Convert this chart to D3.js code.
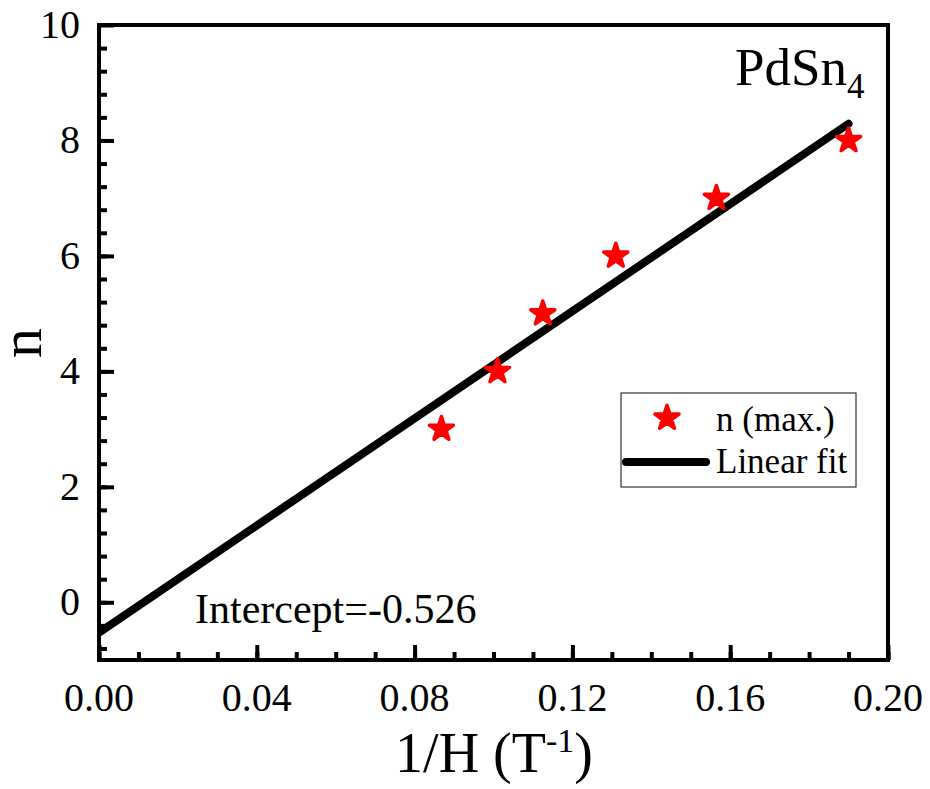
<!DOCTYPE html>
<meta charset="utf-8">
<script src="https://d3js.org/d3.v7.min.js"></script>
<style>
  body { margin: 0; background: #fff; }
  text { font-family: "Liberation Serif", "Times New Roman", serif; fill: #000; }
</style>
<div id="my_dataviz"></div>
<script>
// data
var invH = [0.0868, 0.101, 0.1125, 0.131, 0.1565, 0.190];
var nMax = [3, 4, 5, 6, 7, 8];
var fitIntercept = -0.526;
var fitSlope = 46.4;
var fitRange = [0, 0.19];
var xTicks = [0, 0.04, 0.08, 0.12, 0.16, 0.20];
var yTicks = [0, 2, 4, 6, 8, 10];

var W = 930, H = 789;
var margin = {top: 25, right: 42, bottom: 129, left: 99};
var width = W - margin.left - margin.right,
    height = H - margin.top - margin.bottom;

var svg = d3.select("#my_dataviz").append("svg")
    .attr("width", W).attr("height", H);
var g = svg.append("g")
    .attr("transform", "translate(" + margin.left + "," + margin.top + ")");

var x = d3.scaleLinear().domain([0, 0.2]).range([0, width]);
var y = d3.scaleLinear().domain([-1, 10]).range([height, 0]);

g.append("clipPath").attr("id", "clip")
  .append("rect").attr("width", width).attr("height", height);

// fit line
var fitPts = fitRange.map(function(v) { return [v, fitIntercept + fitSlope * v]; });
g.append("path")
  .attr("clip-path", "url(#clip)")
  .attr("d", d3.line().x(function(d) { return x(d[0]); }).y(function(d) { return y(d[1]); })(fitPts))
  .attr("fill", "none").attr("stroke", "#000").attr("stroke-width", 8)
  .attr("stroke-linecap", "round");

// stars
var star = d3.symbol().type(d3.symbolStar).size(180);
g.selectAll(".pt").data(invH).enter().append("path")
  .attr("class", "pt")
  .attr("d", star)
  .attr("transform", function(d, i) { return "translate(" + x(d) + "," + y(nMax[i]) + ")"; })
  .attr("fill", "#ff0000").attr("stroke", "#ff0000").attr("stroke-width", 3.5)
  .attr("stroke-linejoin", "round");

// axes (ticks inward)
var xMinor = d3.range(0, 0.2001, 0.01);
var yMinor = d3.range(-0.8, 10, 0.4).map(function(v) { return +v.toFixed(2); });

var xAx = g.append("g").attr("transform", "translate(0," + height + ")");
xAx.call(d3.axisBottom(x).tickValues(xMinor).tickSize(-8).tickFormat(""));
xAx.append("g").call(d3.axisBottom(x).tickValues(xTicks).tickSize(-15).tickFormat(""));
xAx.selectAll("line").attr("stroke", "#000").attr("stroke-width", 4);
xAx.selectAll(".domain").remove();

var yAx = g.append("g");
yAx.call(d3.axisLeft(y).tickValues(yMinor).tickSize(-8).tickFormat(""));
yAx.append("g").call(d3.axisLeft(y).tickValues(yTicks).tickSize(-15).tickFormat(""));
yAx.selectAll("line").attr("stroke", "#000").attr("stroke-width", 4);
yAx.selectAll(".domain").remove();

// frame
g.append("rect").attr("width", width).attr("height", height)
  .attr("fill", "none").attr("stroke", "#000").attr("stroke-width", 4);

// tick labels
g.selectAll(".xl").data(xTicks).enter().append("text")
  .attr("x", function(d) { return x(d); }).attr("y", height + 51)
  .attr("text-anchor", "middle").style("font-size", "40px")
  .text(function(d) { return d3.format(".2f")(d); });
g.selectAll(".yl").data(yTicks).enter().append("text")
  .attr("x", -19).attr("y", function(d) { return y(d) + 13; })
  .attr("text-anchor", "end").style("font-size", "40px")
  .text(function(d) { return d; });

// axis titles
svg.append("text")
  .attr("transform", "translate(41,343) rotate(-90)")
  .attr("text-anchor", "middle").style("font-size", "60px")
  .text("n");
var xt = svg.append("text")
  .attr("x", 494).attr("y", 772)
  .attr("text-anchor", "middle").style("font-size", "56px");
xt.append("tspan").text("1/H (T");
xt.append("tspan").attr("dy", -20).style("font-size", "34px").text("-1");
xt.append("tspan").attr("dy", 20).text(")");

// sample label
var lab = svg.append("text").attr("x", 735).attr("y", 85).style("font-size", "53px");
lab.append("tspan").text("PdSn");
lab.append("tspan").attr("dy", 13).style("font-size", "35px").text("4");

// intercept note
svg.append("text").attr("x", 195).attr("y", 623).style("font-size", "42px")
  .text("Intercept=-0.526");

// legend
var lg = svg.append("g");
lg.append("rect").attr("x", 621).attr("y", 393).attr("width", 235).attr("height", 94)
  .attr("fill", "#fff").attr("stroke", "#333").attr("stroke-width", 1.2);
lg.append("path").attr("d", star)
  .attr("transform", "translate(667,418)")
  .attr("fill", "#ff0000").attr("stroke", "#ff0000").attr("stroke-width", 3.5)
  .attr("stroke-linejoin", "round");
lg.append("line").attr("x1", 626).attr("x2", 706).attr("y1", 462).attr("y2", 462)
  .attr("stroke", "#000").attr("stroke-width", 8).attr("stroke-linecap", "round");
lg.append("text").attr("x", 716).attr("y", 431).style("font-size", "35px").text("n (max.)");
lg.append("text").attr("x", 716).attr("y", 473).style("font-size", "35px").text("Linear fit");
</script>
